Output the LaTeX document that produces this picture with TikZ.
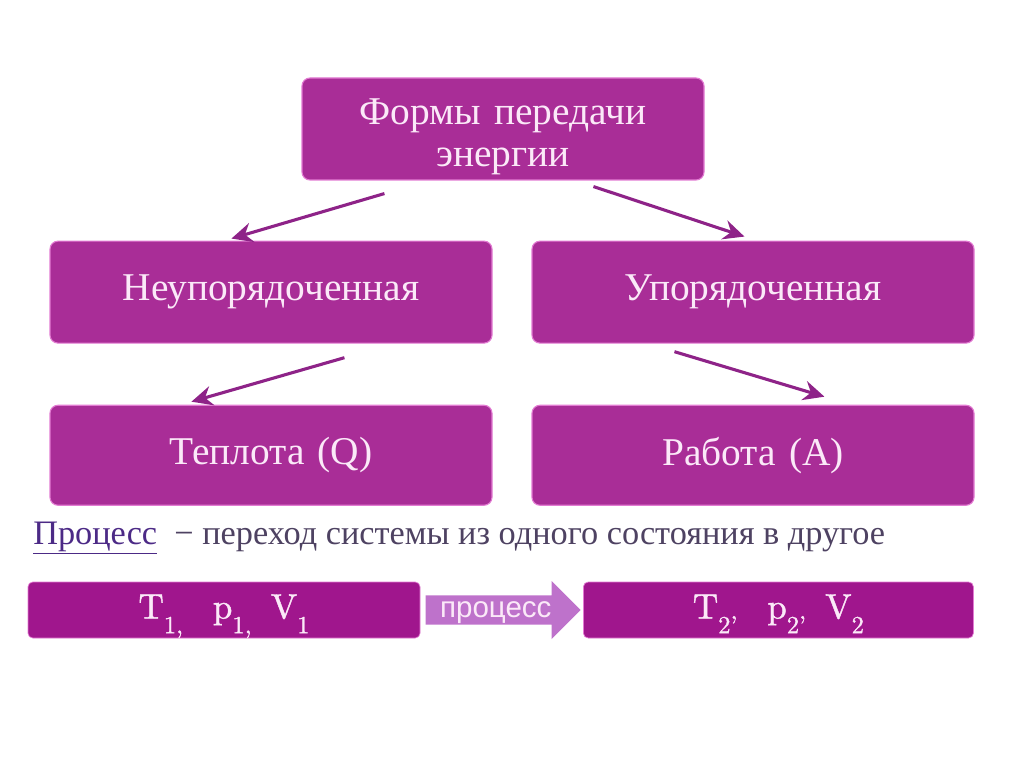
\documentclass[tikz,border=0pt]{standalone}
\usepackage{fontspec}
\newfontfamily\tnr{Liberation Serif}
\newfontfamily\arl{Liberation Sans}
\newfontfamily\lmheavy[Extension=.otf, FakeBold=1.2]{lmroman10-regular}
\usetikzlibrary{shapes,arrows,arrows.meta,positioning,calc}
\definecolor{boxPurple}{HTML}{A92D97}
\definecolor{boxEdge}{HTML}{E27BD2}
\definecolor{barPurple}{HTML}{A0168D}
\definecolor{arrowPurple}{HTML}{8E2388}
\definecolor{stepLilac}{HTML}{BE72CB}
\definecolor{lightText}{HTML}{FBE9F8}
\definecolor{noteGray}{HTML}{4E4262}
\definecolor{noteViolet}{HTML}{4C2A86}
\newcommand\lowidx[1]{\raisebox{-0.42em}{\fontsize{17.5}{17.5}\selectfont #1}}

\begin{document}
\begin{tikzpicture}[
            node distance=1.5cm and 1cm,
            form/.style={
                    rectangle,
                    rounded corners=0.2cm,
                    draw=boxEdge,
                    line width=0.8pt,
                    fill=boxPurple,
                    minimum width=11.05cm,
                    minimum height=2.55cm,
                    text width=10.5cm,
                    align=center,
                    text=lightText,
                    font=\tnr\fontsize{28}{30}\selectfont
                },
            state/.style={
                    rectangle,
                    rounded corners=0.12cm,
                    draw=boxEdge,
                    line width=0.5pt,
                    fill=barPurple,
                    minimum height=1.4cm,
                    text height=17pt,
                    text depth=5pt,
                    text=lightText,
                    font=\lmheavy\fontsize{25}{27}\selectfont
                },
            arrow/.style={
                    -{Stealth[length=15pt,width=14pt,inset=5pt]},
                    line width=2.2pt,
                    draw=arrowPurple
                }
        ]
        \useasboundingbox (0,0) rectangle (25.6,-19.175);

        % Формы передачи энергии
        \node[form, minimum width=10.05cm, text width=9.5cm, inner ysep=0pt] (forms) at (12.575,-3.225) {\rule{0pt}{1.05em}Формы передачи\\энергии};
        \node[form, below=of forms, xshift=-5.8cm] (disorder) {Неупорядоченная};
        \node[form, below=of forms, xshift=6.25cm] (order) {Упорядоченная};
        \node[form, below=1.525cm of disorder, minimum height=2.5cm] (heat) {Теплота (Q)};
        \node[form, below=1.525cm of order, minimum height=2.5cm] (work) {Работа (A)};

        \draw[arrow] ($(forms.south west)+(2.075,-0.325)$) -- ($(disorder.north west)+(4.55,0.05)$);
        \draw[arrow] ($(forms.south west)+(7.3,-0.15)$) -- ($(order.north west)+(5.325,0.1)$);
        \draw[arrow] ($(disorder.south west)+(7.375,-0.35)$) -- ($(heat.north west)+(3.55,0.075)$);
        \draw[arrow] ($(order.south west)+(3.575,-0.2)$) -- ($(work.north west)+(7.325,0.2)$);

        % Процесс
        \node[anchor=base west, inner sep=0pt, text=noteGray, font=\tnr\fontsize{24.4}{26}\selectfont] (def) at (0.825,-13.6)
            {\textcolor{noteViolet}{\underline{Процесс}}\ \ − переход системы из одного состояния в другое};

        % Состояния
        \node[state, minimum width=9.8cm] (start) at (5.6,-15.25)
            {T\lowidx{1,}\hspace{0.85em}p\lowidx{1,}\hspace{0.55em}V\lowidx{1}};
        \node[single arrow, fill=stepLilac, inner sep=0pt, minimum height=3.875cm, minimum width=1.45cm,
              single arrow head extend=0.2cm, text depth=0pt, text=lightText, font=\arl\fontsize{21}{23}\selectfont,
              right=0.125cm of start] (proc) {процесс};
        \node[state, minimum width=9.75cm, right=0.05cm of proc] (final)
            {T\lowidx{2’}\hspace{0.85em}p\lowidx{2’}\hspace{0.55em}V\lowidx{2}};

    \end{tikzpicture}
\end{document}
